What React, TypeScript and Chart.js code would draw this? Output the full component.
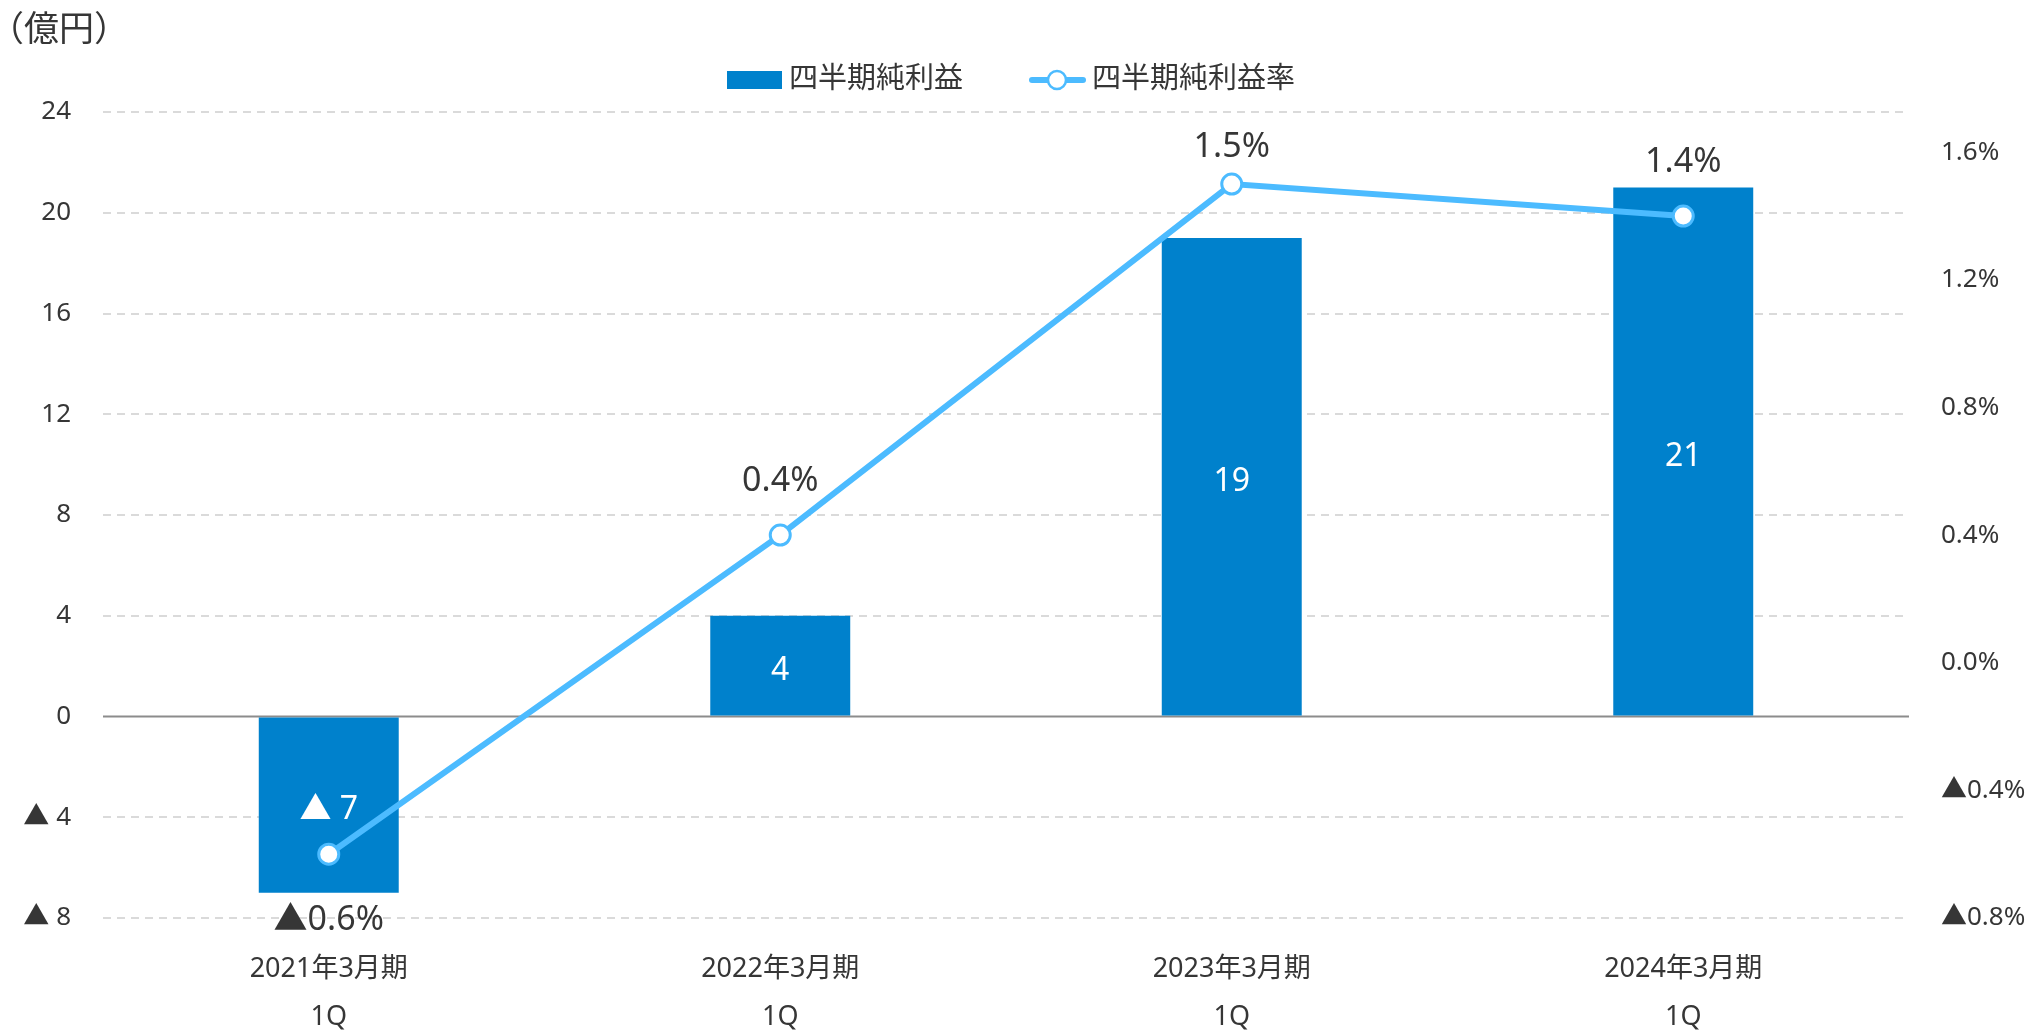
import { useEffect, useRef } from 'react';
import { Chart, registerables } from 'chart.js';

Chart.register(...registerables);

const categories: string[][] = [
  ['2021年3月期', '1Q'],
  ['2022年3月期', '1Q'],
  ['2023年3月期', '1Q'],
  ['2024年3月期', '1Q'],
];
const netIncome = [-7, 4, 19, 21];
const netMargin = [-0.6, 0.4, 1.5, 1.4];
const leftTicks = [-8, -4, 0, 4, 8, 12, 16, 20, 24];
const rightTicks = [-0.8, -0.4, 0, 0.4, 0.8, 1.2, 1.6];
const seriesNames = ['四半期純利益', '四半期純利益率'];
const unitLabel = '（億円）';

const FONT = "'Noto Sans', 'Noto Sans CJK JP', sans-serif";
const TEXT = '#363636';
const BAR = '#0081cc';
const LINE = '#4cbbff';

const fmtLeft = (v: number) => (v < 0 ? '▲ ' + Math.abs(v) : String(v));
const fmtPct = (v: number) => (v < 0 ? '▲' + Math.abs(v).toFixed(1) + '%' : v.toFixed(1) + '%');
const fmtBar = (v: number) => (v < 0 ? '▲ ' + Math.abs(v) : String(v));

const overlayPlugin = {
  id: 'overlay',
  beforeDatasetsDraw(chart: any) {
    const { ctx, chartArea, scales } = chart;
    const y0 = scales.y.getPixelForValue(0);
    ctx.save();
    ctx.strokeStyle = '#8c8c8c';
    ctx.lineWidth = 2;
    ctx.beginPath();
    ctx.moveTo(chartArea.left, y0);
    ctx.lineTo(chartArea.right, y0);
    ctx.stroke();
    ctx.restore();
  },
  afterDatasetsDraw(chart: any) {
    const { ctx, chartArea } = chart;
    ctx.save();
    ctx.textAlign = 'center';
    ctx.textBaseline = 'middle';
    // bar labels
    const barMeta = chart.getDatasetMeta(0);
    ctx.font = `32px ${FONT}`;
    ctx.fillStyle = '#ffffff';
    barMeta.data.forEach((el: any, i: number) => {
      const cy = (el.y + el.base) / 2 + 5;
      ctx.fillText(fmtBar(netIncome[i]), el.x, cy);
    });
    // line labels
    const lineMeta = chart.getDatasetMeta(1);
    ctx.font = `34px ${FONT}`;
    ctx.fillStyle = TEXT;
    lineMeta.data.forEach((el: any, i: number) => {
      const v = netMargin[i];
      const ly = v < 0 ? el.y + 66 : Math.max(el.y - 54, chartArea.top + 35);
      ctx.fillText(fmtPct(v), el.x, ly);
    });
    ctx.restore();
  },
  afterDraw(chart: any) {
    const { ctx } = chart;
    ctx.save();
    ctx.fillStyle = TEXT;
    ctx.textBaseline = 'middle';
    // unit label
    ctx.font = `35px ${FONT}`;
    ctx.textAlign = 'center';
    ctx.fillText(unitLabel, 59, 31);
    // legend
    const ly = 80;
    ctx.font = `29px ${FONT}`;
    ctx.textAlign = 'left';
    ctx.fillStyle = BAR;
    ctx.fillRect(727, 71, 55, 18);
    ctx.fillStyle = TEXT;
    ctx.fillText(seriesNames[0], 789, ly);
    ctx.strokeStyle = LINE;
    ctx.lineWidth = 6;
    ctx.lineCap = 'round';
    ctx.beginPath();
    ctx.moveTo(1032, ly);
    ctx.lineTo(1083, ly);
    ctx.stroke();
    ctx.beginPath();
    ctx.arc(1057, ly, 9, 0, Math.PI * 2);
    ctx.fillStyle = '#ffffff';
    ctx.fill();
    ctx.lineWidth = 2.5;
    ctx.stroke();
    ctx.fillStyle = TEXT;
    ctx.fillText(seriesNames[1], 1092, ly);
    ctx.restore();
  },
};

export default function App() {
  const ref = useRef<HTMLCanvasElement | null>(null);
  useEffect(() => {
    if (!ref.current) return;
    const chart = new Chart(ref.current, {
      type: 'bar',
      data: {
        labels: categories,
        datasets: [
          {
            type: 'bar',
            label: seriesNames[0],
            data: netIncome,
            backgroundColor: BAR,
            barPercentage: 0.31,
            categoryPercentage: 1,
            yAxisID: 'y',
            order: 1,
          },
          {
            type: 'line',
            label: seriesNames[1],
            data: netMargin,
            borderColor: LINE,
            borderWidth: 6,
            pointRadius: 10,
            pointBackgroundColor: '#ffffff',
            pointBorderColor: LINE,
            pointBorderWidth: 3,
            tension: 0,
            yAxisID: 'y1',
            order: 0,
          } as any,
        ],
      },
      options: {
        responsive: false,
        animation: false,
        devicePixelRatio: 1,
        layout: { padding: { top: 112, left: 0, right: 0, bottom: 0 } },
        plugins: {
          legend: { display: false },
          tooltip: { enabled: false },
          title: { display: false },
        },
        scales: {
          x: {
            offset: true,
            grid: { display: false, drawTicks: false },
            border: { display: false },
            ticks: {
              color: TEXT,
              padding: 27,
              font: { family: FONT, size: 27, lineHeight: 48 / 27 },
              maxRotation: 0,
              autoSkip: false,
            },
            afterFit: (s: any) => {
              s.height = 113;
            },
          },
          y: {
            position: 'left',
            min: -8,
            max: 24,
            afterBuildTicks: (s: any) => {
              s.ticks = leftTicks.map((v) => ({ value: v }));
            },
            grid: {
              drawTicks: false,
              color: (c: any) => (c.tick && c.tick.value === 0 ? 'rgba(0,0,0,0)' : '#dadada'),
              lineWidth: 2,
            },
            border: { display: false, dash: [8, 6] },
            ticks: {
              color: TEXT,
              padding: 32,
              font: { family: FONT, size: 26 },
              callback: (v: any) => fmtLeft(Number(v)),
            },
            afterFit: (s: any) => {
              s.width = 103;
            },
          },
          y1: {
            position: 'right',
            min: -0.8,
            max: 1.726,
            afterBuildTicks: (s: any) => {
              s.ticks = rightTicks.map((v) => ({ value: v }));
            },
            grid: { display: false, drawTicks: false },
            border: { display: false },
            ticks: {
              color: TEXT,
              padding: 32,
              font: { family: FONT, size: 26 },
              callback: (v: any) => fmtPct(Number(v)),
            },
            afterFit: (s: any) => {
              s.width = 127;
            },
          },
        },
      },
      plugins: [overlayPlugin],
    });
    return () => chart.destroy();
  }, []);
  return (
    <div style={{ position: 'fixed', left: 0, top: 0, width: 2036, height: 1031, background: '#ffffff' }}>
      <canvas ref={ref} width={2036} height={1031} style={{ width: 2036, height: 1031, display: 'block' }} />
    </div>
  );
}
